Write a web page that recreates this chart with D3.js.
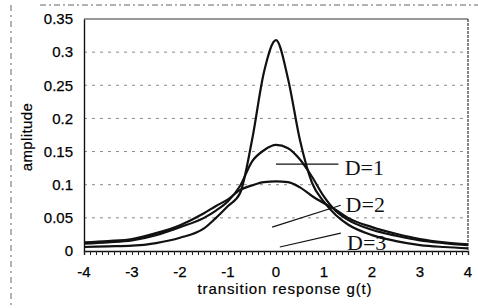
<!DOCTYPE html>
<html>
<head>
<meta charset="utf-8">
<script src="https://cdn.jsdelivr.net/npm/d3@7"></script>
<style>
  body { margin: 0; background: #fff; }
  svg { display: block; }
  .tick-label { font-family: "Liberation Sans", Arial, sans-serif; font-size: 15px; fill: #000; stroke: #000; stroke-width: 0.25px; }
  .axis-title { font-family: "Liberation Sans", Arial, sans-serif; font-size: 15px; fill: #000; stroke: #000; stroke-width: 0.2px; }
  .note { font-family: "Liberation Serif", "Times New Roman", serif; font-size: 22px; fill: #111; }
</style>
</head>
<body>
<div id="chart"></div>
<script>
// data
const tValues = [-4, -3.5, -3, -2.5, -2, -1.5, -1.25, -1, -0.75, -0.5, -0.25, 0,
                 0.25, 0.5, 0.75, 1, 1.25, 1.5, 2, 2.5, 3, 3.5, 4];
const d1Values = [0.006, 0.007, 0.008, 0.012, 0.020, 0.034, 0.050, 0.068, 0.087, 0.167, 0.270, 0.318,
                  0.260, 0.167, 0.103, 0.074, 0.054, 0.040, 0.024, 0.015, 0.009, 0.006, 0.004];
const d2Values = [0.011, 0.013, 0.016, 0.024, 0.036, 0.050, 0.061, 0.075, 0.098, 0.135, 0.152, 0.160,
                  0.155, 0.138, 0.112, 0.082, 0.060, 0.047, 0.032, 0.023, 0.016, 0.012, 0.009];
const d3Values = [0.013, 0.015, 0.018, 0.027, 0.039, 0.057, 0.068, 0.078, 0.092, 0.099, 0.104, 0.105,
                  0.104, 0.096, 0.083, 0.072, 0.062, 0.050, 0.036, 0.026, 0.018, 0.013, 0.010];
const xTicks = [-4, -3, -2, -1, 0, 1, 2, 3, 4];
const yTicks = [0, 0.05, 0.1, 0.15, 0.2, 0.25, 0.3, 0.35];
const labels = ['D=1', 'D=2', 'D=3'];

const W = 478, H = 308;
const svg = d3.select('#chart').append('svg')
  .attr('width', W)
  .attr('height', H);

const x = d3.scaleLinear().domain([-4, 4]).range([84, 468]);
const y = d3.scaleLinear().domain([0, 0.35]).range([251, 19]);

// scanned outer frame
svg.append('line')
  .attr('x1', 40).attr('x2', W).attr('y1', 5).attr('y2', 5)
  .attr('stroke', '#666').attr('stroke-dasharray', '6,3,2,3');
svg.append('line')
  .attr('x1', 11).attr('x2', 11).attr('y1', 5).attr('y2', H)
  .attr('stroke', '#666').attr('stroke-dasharray', '6,4,2,4');

// gridlines
svg.append('g').selectAll('line')
  .data(yTicks.filter(d => d > 0 && d < 0.35))
  .join('line')
  .attr('x1', x(-4)).attr('x2', x(4))
  .attr('y1', d => y(d)).attr('y2', d => y(d))
  .attr('stroke', '#8a8a8a')
  .attr('stroke-dasharray', '3,5');

// plot frame: top and right
svg.append('line')
  .attr('x1', x(-4)).attr('x2', x(4)).attr('y1', y(0.35)).attr('y2', y(0.35))
  .attr('stroke', '#333').attr('stroke-width', 1.2);
svg.append('line')
  .attr('x1', x(4)).attr('x2', x(4)).attr('y1', y(0.35)).attr('y2', y(0))
  .attr('stroke', '#333').attr('stroke-width', 1.2).attr('stroke-dasharray', '3,1');

// y axis
const yAxis = d3.axisLeft(y).tickValues(yTicks).tickSize(0).tickPadding(11)
  .tickFormat(d => d === 0 ? '0' : String(+d.toFixed(2)));
svg.append('g')
  .attr('transform', `translate(${x(-4)},0)`)
  .call(yAxis)
  .call(g => g.select('.domain').attr('stroke', '#111').attr('stroke-width', 1.4))
  .call(g => g.selectAll('text').attr('class', 'tick-label').attr('fill', null)
    .attr('font-family', null).attr('font-size', null));

// x axis with fine ticks
const minorTicks = d3.range(-4, 4.0001, 0.125);
const xAxis = d3.axisBottom(x).tickValues(minorTicks).tickSize(4).tickFormat('');
svg.append('g')
  .attr('transform', `translate(0,${y(0)})`)
  .call(xAxis)
  .call(g => g.select('.domain').attr('stroke', '#111').attr('stroke-width', 1.4))
  .call(g => g.selectAll('.tick line').attr('stroke', '#222'));

svg.append('g').selectAll('text')
  .data(xTicks)
  .join('text')
  .attr('class', 'tick-label')
  .attr('x', d => x(d))
  .attr('y', 277)
  .attr('text-anchor', 'middle')
  .text(d => d);

// axis titles
svg.append('text')
  .attr('class', 'axis-title')
  .attr('x', 285).attr('y', 294)
  .attr('text-anchor', 'middle')
  .attr('letter-spacing', 0.9)
  .text('transition response g(t)');

svg.append('text')
  .attr('class', 'axis-title')
  .attr('transform', 'translate(32,137) rotate(-90)')
  .attr('text-anchor', 'middle')
  .attr('letter-spacing', 0.4)
  .text('amplitude');

// curves
const line = d3.line()
  .x((d, i) => x(tValues[i]))
  .y(d => y(d))
  .curve(d3.curveMonotoneX);

[d1Values, d2Values, d3Values].forEach(series => {
  svg.append('path')
    .datum(series)
    .attr('d', line)
    .attr('fill', 'none')
    .attr('stroke', '#111')
    .attr('stroke-width', 2.2);
});

// annotations with leader lines
const leaders = [
  { from: [0, 0.131], to: [1.3, 0.131] },
  { from: [-0.08, 0.036], to: [1.35, 0.069] },
  { from: [0.08, 0.006], to: [1.35, 0.027] }
];
svg.append('g').selectAll('line')
  .data(leaders)
  .join('line')
  .attr('x1', d => x(d.from[0])).attr('y1', d => y(d.from[1]))
  .attr('x2', d => x(d.to[0])).attr('y2', d => y(d.to[1]))
  .attr('stroke', '#111')
  .attr('stroke-width', 1.2);

const labelPos = [[1.43, 0.115], [1.45, 0.059], [1.48, 0.002]];
svg.append('g').selectAll('text')
  .data(labels)
  .join('text')
  .attr('class', 'note')
  .attr('x', (d, i) => x(labelPos[i][0]))
  .attr('y', (d, i) => y(labelPos[i][1]))
  .text(d => d);
</script>
</body>
</html>
